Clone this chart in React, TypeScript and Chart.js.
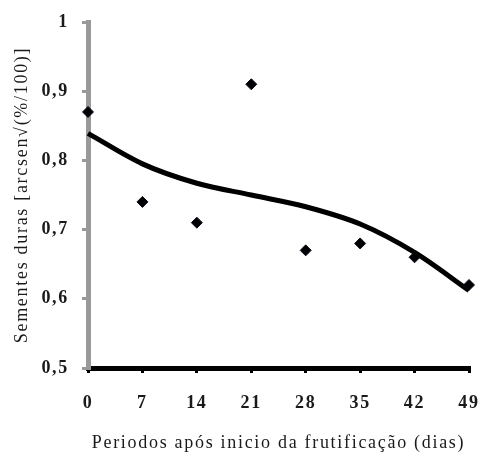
import React, { useEffect, useRef } from "react";
import { Chart, registerables } from "chart.js";

Chart.register(...registerables);

const days = [0, 7, 14, 21, 28, 35, 42, 49];
const observed = [0.87, 0.74, 0.71, 0.91, 0.67, 0.68, 0.66, 0.62];
const trendDays = [0, 7, 14, 21, 28, 35, 42, 49];
const trendValues = [0.839, 0.795, 0.767, 0.75, 0.733, 0.708, 0.667, 0.612];
const xTitle = "Periodos após inicio da frutificação (dias)";
const yTitle = "Sementes duras [arcsen√(%/100)]";

const spacingPlugin = {
  id: "spacing",
  beforeDraw(chart: any) {
    (chart.ctx as any).letterSpacing = "1.7px";
  },
};

export default function App() {
  const ref = useRef<HTMLCanvasElement | null>(null);
  useEffect(() => {
    if (!ref.current) return;
    const serif = "'Liberation Serif', 'Times New Roman', serif";
    const chart = new Chart(ref.current, {
      type: "scatter",
      plugins: [spacingPlugin],
      data: {
        datasets: [
          {
            label: "trend",
            data: trendDays.map((d, i) => ({ x: d, y: trendValues[i] })),
            showLine: true,
            borderColor: "#000",
            borderWidth: 5,
            pointRadius: 0,
            cubicInterpolationMode: "monotone",
            clip: false,
            order: 2,
          },
          {
            label: "obs",
            data: days.map((d, i) => ({ x: d, y: observed[i] })),
            pointStyle: "rectRot",
            pointRadius: 5.5,
            backgroundColor: "#000",
            borderColor: "#0a0a20",
            borderWidth: 1,
            showLine: false,
            clip: false,
            order: 1,
          },
        ],
      },
      options: {
        animation: false,
        responsive: false,
        maintainAspectRatio: false,
        plugins: { legend: { display: false }, tooltip: { enabled: false } },
        layout: { padding: { left: 0, top: 22, right: 11, bottom: 0 } },
        scales: {
          x: {
            type: "linear",
            min: 0,
            max: 49,
            afterFit: (s: any) => {
              s.height = 88;
              s.paddingLeft = 0;
              s.paddingRight = 0;
            },
            ticks: {
              stepSize: 7,
              color: "#1a1a1a",
              padding: 20,
              font: { family: serif, size: 18, weight: "bold" },
            },
            grid: {
              drawOnChartArea: false,
              color: "#000",
              lineWidth: 3,
              tickLength: 5,
            },
            border: { color: "#000", width: 5 },
            title: {
              display: true,
              text: xTitle,
              color: "#1a1a1a",
              font: { family: serif, size: 18 },
              padding: { top: 0, bottom: 2 },
            },
          },
          y: {
            min: 0.5,
            max: 1,
            afterFit: (s: any) => {
              s.width = 88;
              s.paddingTop = 0;
              s.paddingBottom = 0;
            },
            ticks: {
              stepSize: 0.1,
              color: "#1a1a1a",
              padding: 13,
              font: { family: serif, size: 18, weight: "bold" },
              callback: (v: any) => (Math.abs(v - 1) < 1e-9 ? "1" : Number(v).toFixed(1).replace(".", ",")),
            },
            grid: {
              drawOnChartArea: false,
              color: "#999",
              lineWidth: 3,
              tickLength: 6,
            },
            border: { color: "#999", width: 5 },
            title: {
              display: true,
              text: yTitle,
              color: "#1a1a1a",
              font: { family: serif, size: 18 },
              padding: { top: 11, bottom: 0 },
            },
          },
        },
      },
    } as any);
    return () => chart.destroy();
  }, []);
  return (
    <div style={{ position: "fixed", left: 0, top: 0, width: 480, height: 456, background: "#fff" }}>
      <canvas ref={ref} width={480} height={456} style={{ width: 480, height: 456 }} />
    </div>
  );
}
